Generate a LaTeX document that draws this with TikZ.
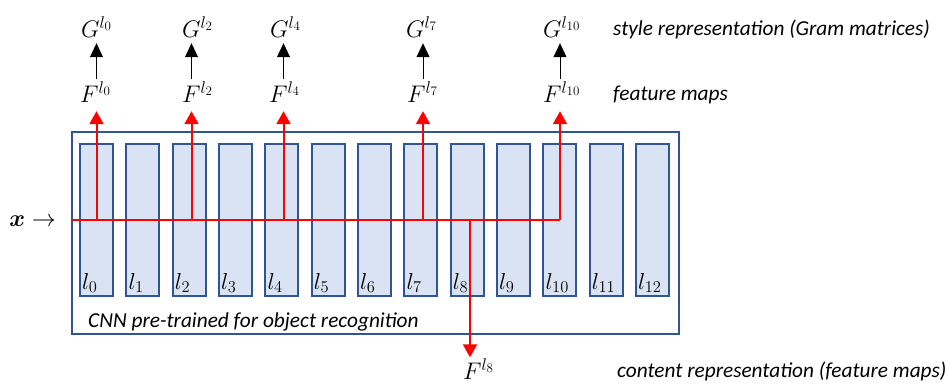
\RequirePackage{fix-cm}
\documentclass[tikz,border=0pt]{standalone}
\usepackage{bm}
\usepackage{fontspec}
\setmainfont{Carlito}
\DeclareMathSizes{24}{24}{17}{13}
\DeclareMathSizes{23}{23}{16.5}{12.5}
\usetikzlibrary{arrows.meta,calc}
\definecolor{bblue}{RGB}{47,85,151}
\definecolor{lblue}{RGB}{218,227,243}
\begin{document}
\begin{tikzpicture}[x=1pt,y=-1pt,
 layer/.style={draw=bblue, fill=lblue, line width=2pt, minimum width=33pt, minimum height=152pt, inner sep=0pt},
 outerbox/.style={draw=bblue, line width=2pt, minimum width=607pt, minimum height=202pt, inner sep=0pt},
 mth/.style={font=\fontsize{24}{28}\selectfont, inner sep=0pt, anchor=base west},
 lab/.style={font=\fontsize{23}{28}\selectfont, inner sep=0pt, anchor=base west},
 txt/.style={font=\fontsize{21.3}{25}\selectfont\itshape, inner sep=0pt, anchor=base west},
 redln/.style={draw=red, line width=2pt},
 redarr/.style={draw=red, line width=2pt, -{Triangle[width=14pt,length=13pt]}},
 blkarr/.style={draw=black, line width=1pt, -{Triangle[width=13pt,length=14pt]}}]
\useasboundingbox (0,0) rectangle (947,383);

% outer CNN box
\node[outerbox] (CNN) at (375.5,233) {};
\node[txt] (cnntxt) at (88,327) {CNN pre-trained for object recognition};

% layers
\foreach \i in {0,...,12} {
  \node[layer] (L\i) at ({96.5+46.33*\i},220) {};
  \node[lab] (T\i) at ([shift={(3pt,8pt)}]L\i.south west) {$l_{\i}$};
}

% input
\node[font=\fontsize{24}{28}\selectfont, inner sep=0pt, anchor=east] (xin) at (56,221) {$\bm{x}\rightarrow$};

% junctions on the red line
\coordinate (J0) at (96.5,220);
\coordinate (J2) at (191.5,220);
\coordinate (J4) at (283.5,220);
\coordinate (J7) at (423,220);
\coordinate (J8) at (470,220);
\coordinate (J10) at (560,220);
\coordinate (Jin) at (CNN.west |- J0);

% F and G labels
\node[mth] (F0) at (80,102) {$F^{l_0}$};
\node[mth] (G0) at (81,37) {$G^{l_0}$};
\node[mth] (F2) at (182,102) {$F^{l_2}$};
\node[mth] (G2) at (182,37) {$G^{l_2}$};
\node[mth] (F4) at (269,102) {$F^{l_4}$};
\node[mth] (G4) at (270,37) {$G^{l_4}$};
\node[mth] (F7) at (407,102) {$F^{l_7}$};
\node[mth] (G7) at (406,37) {$G^{l_7}$};
\node[mth] (F10) at (543,102) {$F^{l_{10}}$};
\node[mth] (G10) at (543,37) {$G^{l_{10}}$};
\node[mth] (F8) at (463,379) {$F^{l_8}$};

% red connections
\draw[redln] (Jin) -- (J10);
\foreach \j in {0,2,4,7,10} {
  \draw[redarr, shorten >=9pt] (J\j) -- (J\j |- F\j.south);
  \draw[blkarr, shorten >=6pt, shorten <=2pt] (J\j |- F\j.north) -- (J\j |- G\j.south);
}
\draw[redarr, shorten >=1pt] (J8) -- (J8 |- F8.north);

% side texts
\node[txt] (style) at (613,35) {style representation (Gram matrices)};
\node[txt] (feat) at (613,100) {feature maps};
\node[txt] (content) at (617,377) {content representation (feature maps)};
\end{tikzpicture}
\end{document}
